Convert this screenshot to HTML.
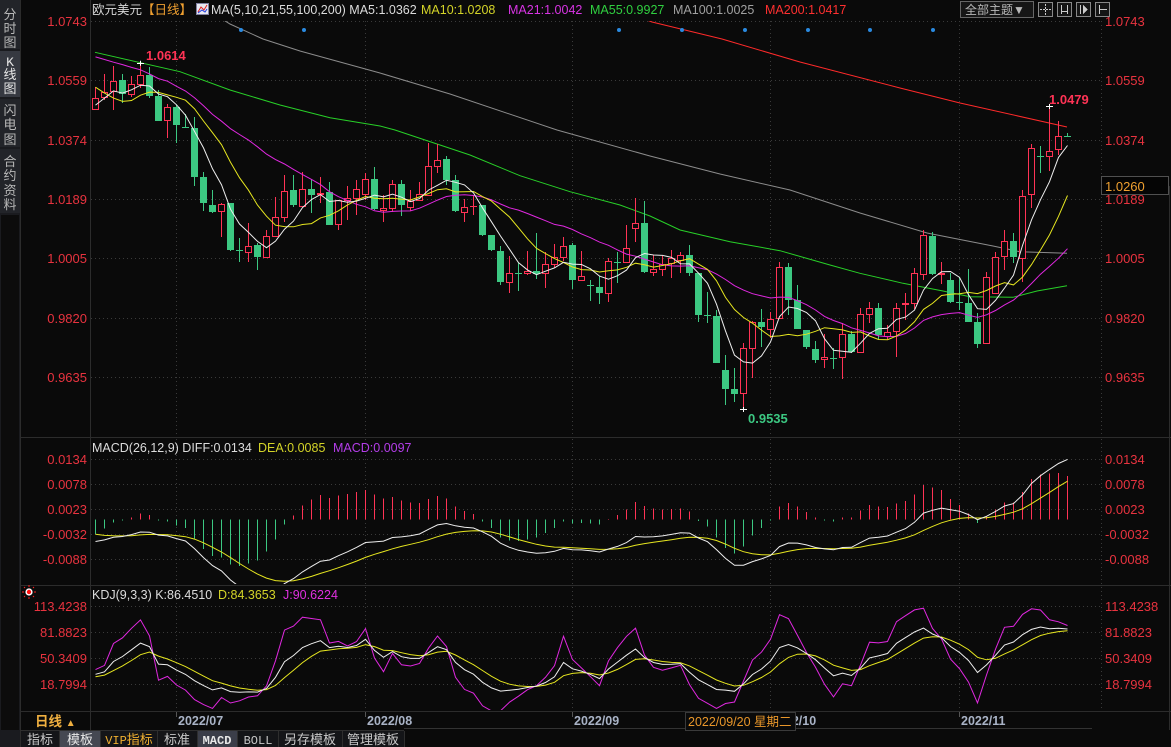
<!DOCTYPE html>
<html><head><meta charset="utf-8">
<style>
html,body{margin:0;padding:0;background:#0a0a0a;}
body{width:1171px;height:747px;overflow:hidden;position:relative;font-family:"Liberation Sans","Noto Sans CJK SC",sans-serif;}
svg{position:absolute;left:0;top:0;}
text{font-family:"Liberation Sans","Noto Sans CJK SC",sans-serif;}
.mono{font-family:"Liberation Mono","Noto Sans CJK SC",monospace;}
</style></head><body>
<svg id="s" width="1171" height="747" viewBox="0 0 1171 747">
<defs>
<clipPath id="cm"><rect x="91" y="21" width="1010" height="416"/></clipPath>
<clipPath id="cd"><rect x="91" y="439" width="1010" height="145"/></clipPath>
<clipPath id="ck"><rect x="91" y="587" width="1010" height="123"/></clipPath>
</defs>
<rect x="0" y="0" width="1171" height="747" fill="#0a0a0a"/>
<!-- sidebar -->
<rect x="0" y="0" width="20" height="747" fill="#1a1b1f"/>
<rect x="0" y="0" width="20" height="49" fill="#222429"/>
<rect x="0" y="51" width="20" height="46" fill="#363941"/>
<rect x="0" y="99" width="20" height="48" fill="#222429"/>
<rect x="0" y="149" width="20" height="64" fill="#222429"/>
<rect x="1" y="215" width="18" height="515" fill="#0c0c0c"/>
<g fill="#b8b8b8" font-size="13" text-anchor="middle">
<text x="10" y="19">分</text><text x="10" y="33">时</text><text x="10" y="47">图</text>
<text x="10" y="66" fill="#e6e6e6" class="mono">K</text><text x="10" y="79" fill="#e6e6e6">线</text><text x="10" y="93" fill="#e6e6e6">图</text>
<text x="10" y="115">闪</text><text x="10" y="129">电</text><text x="10" y="144">图</text>
<text x="10" y="166">合</text><text x="10" y="180">约</text><text x="10" y="195">资</text><text x="10" y="209">料</text>
</g>
<g stroke="#2c2c2c" shape-rendering="crispEdges">
<line x1="20.5" y1="0" x2="20.5" y2="747"/>
<line x1="90.5" y1="0" x2="90.5" y2="730"/>
<line x1="20" y1="437.5" x2="1171" y2="437.5"/>
<line x1="20" y1="585.5" x2="1171" y2="585.5"/>
<line x1="20" y1="711.5" x2="1171" y2="711.5"/>
<line x1="1169.5" y1="186" x2="1169.5" y2="730"/>
<line x1="404" y1="728.5" x2="1092" y2="728.5" stroke="#333"/>
</g>
<!-- grid -->
<g stroke="#3a3a3a" stroke-dasharray="1,3" shape-rendering="crispEdges">
<line x1="91" y1="21.5" x2="1101" y2="21.5"/><line x1="91" y1="80.5" x2="1101" y2="80.5"/>
<line x1="91" y1="140.5" x2="1101" y2="140.5"/><line x1="91" y1="199.5" x2="1101" y2="199.5"/>
<line x1="91" y1="258.5" x2="1101" y2="258.5"/><line x1="91" y1="318.5" x2="1101" y2="318.5"/>
<line x1="91" y1="377.5" x2="1101" y2="377.5"/>
<line x1="91" y1="459.5" x2="1101" y2="459.5"/><line x1="91" y1="484.5" x2="1101" y2="484.5"/>
<line x1="91" y1="509.5" x2="1101" y2="509.5"/><line x1="91" y1="534.5" x2="1101" y2="534.5"/>
<line x1="91" y1="559.5" x2="1101" y2="559.5"/>
<line x1="91" y1="606.5" x2="1101" y2="606.5"/><line x1="91" y1="632.5" x2="1101" y2="632.5"/>
<line x1="91" y1="658.5" x2="1101" y2="658.5"/><line x1="91" y1="684.5" x2="1101" y2="684.5"/>
<g id="vg"></g>
</g>
<!-- header -->
<text x="92" y="14" font-size="12.5" fill="#d6d6d6">欧元美元<tspan fill="#f0a030">【日线】</tspan></text>
<rect x="196.5" y="3.5" width="12" height="11" fill="#e8e8f0" stroke="#8080a0"/>
<polyline points="198,12 201,7 204,10 207,5" fill="none" stroke="#e02020" stroke-width="1"/>
<polyline points="198,13 202,10 205,12 207,9" fill="none" stroke="#2040e0" stroke-width="1"/>
<text x="211" y="14" font-size="12.5" fill="#dcdcdc">MA(5,10,21,55,100,200)  MA5:1.0362</text>
<text x="421" y="14" font-size="12.5" fill="#d4d428">MA10:1.0208</text>
<text x="508" y="14" font-size="12.5" fill="#d834e4">MA21:1.0042</text>
<text x="590" y="14" font-size="12.5" fill="#30d040">MA55:0.9927</text>
<text x="673" y="14" font-size="12.5" fill="#a0a0a0">MA100:1.0025</text>
<text x="765" y="14" font-size="12.5" fill="#ff3030">MA200:1.0417</text>
<rect x="960.5" y="1.5" width="73" height="16" fill="#161616" stroke="#666"/>
<text x="965" y="14" font-size="12" fill="#b8b8b8">全部主题▼</text>
<g stroke="#888" fill="#151515" shape-rendering="crispEdges">
<rect x="1038.5" y="2.5" width="14" height="14"/><rect x="1057.5" y="2.5" width="14" height="14"/>
<rect x="1076.5" y="2.5" width="14" height="14"/><rect x="1095.5" y="2.5" width="14" height="14"/>
<line x1="1045.5" y1="4" x2="1045.5" y2="15" stroke="#ccc" stroke-dasharray="2,1"/>
<line x1="1040" y1="9.5" x2="1051" y2="9.5" stroke="#ccc" stroke-dasharray="2,1"/>
<line x1="1061.5" y1="5" x2="1061.5" y2="14" stroke="#ccc"/><line x1="1067.5" y1="5" x2="1067.5" y2="14" stroke="#ccc"/>
<line x1="1061" y1="11.5" x2="1068" y2="11.5" stroke="#ccc"/>
<line x1="1080.5" y1="5" x2="1080.5" y2="14" stroke="#ccc"/><polygon points="1083,5 1088,9.5 1083,14" fill="#ccc" stroke="none"/>
<line x1="1099.5" y1="5" x2="1099.5" y2="14" stroke="#ccc"/><line x1="1100" y1="9.5" x2="1107" y2="9.5" stroke="#ccc"/>
</g>
<!-- axis labels -->
<g font-size="13" fill="#e8333f">
<g text-anchor="end">
<text x="87" y="26">1.0743</text><text x="87" y="85">1.0559</text><text x="87" y="145">1.0374</text>
<text x="87" y="204">1.0189</text><text x="87" y="263">1.0005</text><text x="87" y="323">0.9820</text>
<text x="87" y="382">0.9635</text>
<text x="87" y="464">0.0134</text><text x="87" y="489">0.0078</text><text x="87" y="514">0.0023</text>
<text x="87" y="539">-0.0032</text><text x="87" y="564">-0.0088</text>
<text x="87" y="611">113.4238</text><text x="87" y="637">81.8823</text><text x="87" y="663">50.3409</text>
<text x="87" y="689">18.7994</text>
</g>
<text x="1105" y="26">1.0743</text><text x="1105" y="85">1.0559</text><text x="1105" y="145">1.0374</text>
<text x="1105" y="204">1.0189</text><text x="1105" y="263">1.0005</text><text x="1105" y="323">0.9820</text>
<text x="1105" y="382">0.9635</text>
<text x="1105" y="464">0.0134</text><text x="1105" y="489">0.0078</text><text x="1105" y="514">0.0023</text>
<text x="1105" y="539">-0.0032</text><text x="1105" y="564">-0.0088</text>
<text x="1105" y="611">113.4238</text><text x="1105" y="637">81.8823</text><text x="1105" y="663">50.3409</text>
<text x="1105" y="689">18.7994</text>
</g>
<rect x="1101.5" y="176.5" width="67" height="18" fill="#050505" stroke="#505050"/>
<text x="1105" y="191" font-size="13" fill="#f0a030">1.0260</text>
<!-- sub headers -->
<text x="92" y="452" font-size="12.5" fill="#dcdcdc">MACD(26,12,9) DIFF:0.0134</text>
<text x="258" y="452" font-size="12.5" fill="#d4d428">DEA:0.0085</text>
<text x="333" y="452" font-size="12.5" fill="#b33de8">MACD:0.0097</text>
<text x="92" y="599" font-size="12.5" fill="#dcdcdc">KDJ(9,3,3) K:86.4510</text>
<text x="218" y="599" font-size="12.5" fill="#d4d428">D:84.3653</text>
<text x="283" y="599" font-size="12.5" fill="#e030e0">J:90.6224</text>
<g transform="translate(29,592)">
<g stroke="#ff2020" stroke-width="1"><line x1="-7" y1="0" x2="-5" y2="0"/><line x1="5" y1="0" x2="7" y2="0"/><line x1="0" y1="-7" x2="0" y2="-5"/><line x1="0" y1="5" x2="0" y2="7"/><line x1="-5" y1="-5" x2="-4" y2="-4"/><line x1="5" y1="-5" x2="4" y2="-4"/><line x1="-5" y1="5" x2="-4" y2="4"/><line x1="5" y1="5" x2="4" y2="4"/></g>
<circle r="3.6" fill="#ffffff"/><circle r="2.2" fill="#ff1010"/>
</g>
<!-- date axis -->
<g stroke="#555" shape-rendering="crispEdges">
<line x1="176.5" y1="712" x2="176.5" y2="717"/><line x1="365.5" y1="712" x2="365.5" y2="717"/>
<line x1="572.5" y1="712" x2="572.5" y2="717"/><line x1="770.5" y1="712" x2="770.5" y2="717"/>
<line x1="959.5" y1="712" x2="959.5" y2="717"/>
</g>
<g font-size="12.5" font-weight="bold" fill="#a9b3c6">
<text x="178" y="725">2022/07</text><text x="367" y="725">2022/08</text><text x="574" y="725">2022/09</text>
<text x="771" y="725">2022/10</text><text x="961" y="725">2022/11</text>
</g>
<rect x="685.5" y="712.5" width="110" height="18" fill="#0a0a0a" stroke="#3a3a3a"/>
<text x="688" y="726" font-size="12.5" fill="#e8962a">2022/09/20 星期二</text>
<text x="35" y="726" font-size="13.5" font-weight="bold" fill="#f0b040">日线 <tspan font-size="10">▲</tspan></text>
<!-- bottom tabs -->
<rect x="21" y="731" width="383" height="16" fill="#141518"/>
<rect x="60" y="731" width="40" height="16" fill="#454852"/>
<rect x="198" y="731" width="39" height="16" fill="#3b3e49"/>
<g stroke="#2e2e2e" shape-rendering="crispEdges">
<line x1="20" y1="730.5" x2="404" y2="730.5"/>
<line x1="59.5" y1="731" x2="59.5" y2="747"/><line x1="100.5" y1="731" x2="100.5" y2="747"/>
<line x1="157.5" y1="731" x2="157.5" y2="747"/><line x1="197.5" y1="731" x2="197.5" y2="747"/>
<line x1="237.5" y1="731" x2="237.5" y2="747"/><line x1="278.5" y1="731" x2="278.5" y2="747"/>
<line x1="342.5" y1="731" x2="342.5" y2="747"/><line x1="404.5" y1="731" x2="404.5" y2="747"/>
</g>
<g font-size="13" fill="#c8c8c8" text-anchor="middle">
<text x="40" y="744">指标</text><text x="80" y="744" fill="#e8e8e8">模板</text>
<text x="129" y="744" fill="#f0b030"><tspan class="mono" font-size="12">VIP</tspan>指标</text>
<text x="177" y="744">标准</text>
<text x="217" y="744" class="mono" font-size="12" font-weight="bold" fill="#e8e8e8">MACD</text>
<text x="258" y="744" class="mono" font-size="12">BOLL</text>
<text x="310" y="744">另存模板</text><text x="373" y="744">管理模板</text>
</g>
<g id="main" clip-path="url(#cm)"></g>
<g id="macd" clip-path="url(#cd)"></g>
<g id="kdj" clip-path="url(#ck)"></g>
<g id="ann"></g>
<text x="146" y="60" font-size="13" font-weight="bold" fill="#ff3355">1.0614</text>
<text x="1049" y="104" font-size="13" font-weight="bold" fill="#ff3355">1.0479</text>
<text x="748" y="423" font-size="13" font-weight="bold" fill="#3cc882">0.9535</text>
</svg>
<script>
(function(){
var NS='http://www.w3.org/2000/svg';
function el(t,a,p){var e=document.createElementNS(NS,t);for(var k in a)e.setAttribute(k,a[k]);p.appendChild(e);return e;}
var D=[[109.3,98.3,86.7,109.3],[97.3,91.7,74,100],[90.7,80.7,66,110],[80,94,74,103],[94.3,84.3,76,96.7],[84.3,75.3,62.7,88.3],[75,95.7,66.7,98.3],[96,120.7,90,121],[120,107.3,104,137.7],[107,125,105,143.3],
[127,127.3,114,127.5],[128,176.7,117.3,186],[177.3,203.3,172.3,211],[205,211.7,190,213.3],[211.3,204.3,203.3,236.7],[202.7,250,202.7,250.7],[250,250.5,238.3,261.7],[251.7,245.7,222.7,261.7],[245,256.7,243.3,270],[256.7,235.7,230,258.3],
[235.7,217.3,196.7,236.7],[216.7,190.7,175,221.7],[190,205,175,207],[205.7,189.3,172.3,206.7],[189,195,179,213.3],[194,193,177.3,203.3],[192.3,225,181.7,225],[224.3,200,200,230],[200,198,185.7,220],[198.3,189.3,180,215],
[194,179.3,172.7,200],[179.3,209.3,166.7,210],[209.7,208.3,195,221.7],[208.3,184.3,180,211.7],[184.3,205,180,215.7],[206.7,201,190,210.7],[200,194.3,182.3,200.7],[195,166,143.3,195],[165.7,160.3,144,172.7],[159,180,156,185],
[180.3,210.7,175,211.7],[211.7,207.3,199,221.7],[206.3,206,195,215],[205,235,205,236],[235.3,250,235,250.7],[251,281.7,246,285],[281.7,273.3,256,293.3],[273,273.5,263.3,290.7],[273.3,271,251,275],[271,274,233.3,279],
[273.3,264.3,251.7,288.3],[264.3,256.7,244.3,268.3],[257.3,245.7,236.7,260.7],[245,280,243.3,289.3],[280.3,276,251,280.3],[285,285.5,280,300.7],[286.7,293.3,275.7,304],[293.3,261.3,257.7,301.7],[261.7,262.3,252.3,283.3],[262.3,248.3,225,262.3],
[228.3,223.3,198.3,241.7],[223.3,272.3,201,272.7],[272.3,269,255,276],[269,264,256,276],[263.3,258.3,250,278.3],[260,255.3,251.7,272.7],[255,272.7,245,276],[272.7,315,272.7,321.7],[315,315.3,291.7,323.3],[316,362.7,310,363.3],
[370,389,355,405],[389,394,368.3,401.7],[393.3,348.3,342.7,409],[348.3,321.7,321,378.3],[321.7,326.7,309,346.7],[329.3,319.3,311.7,338.3],[318.3,267.3,261.7,318.3],[267.3,300,263.3,315],[300,329.3,285,329.3],[330,346.7,330,349.3],
[349.3,360,341,363.3],[359.3,357.3,334,367.7],[357.7,358.3,348.3,369],[357.3,334.3,323.3,379.3],[334,351.7,330.7,353.3],[352.3,314.3,308.3,353.3],[314,308.3,302.3,323.3],[308.3,335,303.3,339.3],[336,331.7,325,340],[330.7,307.7,303.3,356.7],
[304,303,293.3,320],[303.3,273.3,268.3,309],[274.3,235,230,280],[235.7,274,231.7,275],[274,273,261.7,284.3],[280,302.3,272.7,303.3],[302,302.3,276.7,310],[303.3,321.7,269,321.7],[322.3,344,313.3,348.3],[342.7,276.7,272.3,343.3],
[292.7,257.3,251.7,292.7],[256,240.7,230,270],[240.7,257.3,233.3,263.3],[258.3,195.7,190,281.7],[194.3,148.3,144,208.3],[155.5,156.5,146,173.3],[156,150.7,106,170.7],[149,136,120.7,155],[135.7,136,133.3,136.5]];
function P(y){return 1.0743-(y-21)/3214;}
function Y(p){return 21+(1.0743-p)*3214;}
function X(i){return 95+9*i+0.5;}
var N=D.length;
var closes=D.map(function(d){return P(d[1]);});
var pre=[1.0690,1.0735,1.0676,1.0728,1.0733,1.0779,1.0735,1.0646,1.0750,1.0719,1.0697,1.0705,1.0715,1.0617,1.0518,1.0408,1.0414,1.0445,1.0550,1.0495];
var allC=pre.concat(closes);
function ma(n){var r=[];for(var i=0;i<N;i++){var s=0;for(var k=0;k<n;k++)s+=allC[i+20-k];r.push(s/n);}return r;}
var vg=document.getElementById('vg');
[176,365,572,770,959,1101].forEach(function(x){
 [[21,437],[439,584],[587,710]].forEach(function(r){el('line',{x1:x+0.5,y1:r[0],x2:x+0.5,y2:r[1]},vg);});
});
var gm=document.getElementById('main');
function poly(pts,col,p){el('polyline',{points:pts.map(function(q){return q[0].toFixed(1)+','+q[1].toFixed(1);}).join(' '),fill:'none',stroke:col,'stroke-width':1},p);}
poly([[95,52.3],[180,71.7],[230,90],[280,105],[330,117.7],[380,126],[395,130],[470,155],[520,175.7],[570,191.7],[620,205],[650,216],[680,230],[730,241.7],[780,250.7],[830,265],[860,273.3],[903,283.3],[943,291],[970,296.7],[1013,297.3],[1037,291],[1067,285.7]],'#28d028',gm);
poly([[222,19],[230,24],[263,39],[300,51],[380,73],[450,94],[557,130],[650,156],[720,174],[790,190],[860,213],[927,233],[993,246],[1020,251.7],[1067,253.3]],'#8c8c8c',gm);
poly([[644,19],[652,22],[722,39],[800,62],[900,88],[960,103],[1067,127]],'#ff2a2a',gm);
var gc=el('g',{'shape-rendering':'crispEdges'},gm);
D.forEach(function(d,i){
 var x=X(i),o=d[0],c=d[1],h=d[2],l=d[3];
 var top=Math.round(Math.min(o,c)),bot=Math.round(Math.max(o,c));
 h=Math.round(h);l=Math.round(l);
 if(c<o){var col='#ff3355';
  if(h<top)el('line',{x1:x,y1:h,x2:x,y2:top,stroke:col},gc);
  if(l>bot)el('line',{x1:x,y1:bot,x2:x,y2:l,stroke:col},gc);
  if(bot-top<1)el('line',{x1:x-3.5,y1:top+0.5,x2:x+3.5,y2:top+0.5,stroke:col},gc);
  else el('rect',{x:x-3,y:top+0.5,width:6,height:bot-top,fill:'#0a0a0a',stroke:col},gc);
 } else {var col2='#3cc882';
  el('line',{x1:x,y1:h,x2:x,y2:l,stroke:col2},gc);
  el('rect',{x:x-3.5,y:top,width:7,height:Math.max(bot-top,1),fill:col2},gc);
 }
});
var cols={5:'#eeeeee',10:'#e6e620',21:'#e028e0'};
[21,10,5].forEach(function(n){var m=ma(n);poly(m.map(function(v,i){return [X(i),Y(v)];}),cols[n],gm);});
[241,304,619,682,745,808,870,933].forEach(function(x){el('circle',{cx:x,cy:30,r:2,fill:'#2a8ae0'},gm);});
var an=document.getElementById('ann');
[[5,62.7],[106,106],[72,409]].forEach(function(a){var x=X(a[0]);el('line',{x1:x-3.5,y1:Math.round(a[1])+0.5,x2:x+3.5,y2:Math.round(a[1])+0.5,stroke:'#ffffff'},an);el('line',{x1:x,y1:a[1]-2,x2:x,y2:a[1]+3,stroke:'#ffffff'},an);});
// MACD
var e12=1.0525,e26=1.0574,dea=-0.0033,dif=[],dA=[];
for(var i=0;i<N;i++){if(i>0){e12=e12*11/13+closes[i]*2/13;e26=e26*25/27+closes[i]*2/27;}
 var df=e12-e26-0.0026*Math.exp(-Math.pow((i-19)/7,2));
 if(i>0)dea=dea*0.8+df*0.2;dif.push(df);dA.push(dea);}
var gd=document.getElementById('macd');var Z=519.5,S=4480;
var gh=el('g',{'shape-rendering':'crispEdges'},gd);
for(i=0;i<N;i++){var h2=2*(dif[i]-dA[i]);var x=X(i);el('line',{x1:x,y1:Z,x2:x,y2:Z-h2*S,stroke:h2>=0?'#ff3355':'#3cc882'},gh);}
poly(dA.map(function(v,i){return [X(i),Z-v*S];}),'#e6e620',gd);
poly(dif.map(function(v,i){return [X(i),Z-v*S];}),'#eeeeee',gd);
// KDJ
var preHL=[[1.0748,1.0653,1.0715],[1.0774,1.0613,1.0617],[1.0638,1.0506,1.0518],[1.0522,1.0398,1.0408],[1.0480,1.0397,1.0414],[1.0506,1.0359,1.0445],[1.0601,1.0382,1.0550],[1.0567,1.0445,1.0495]];
var HH=preHL.map(function(a){return a[0];}).concat(D.map(function(d){return P(d[2]);}));
var LL=preHL.map(function(a){return a[1];}).concat(D.map(function(d){return P(d[3]);}));
var CC=preHL.map(function(a){return a[2];}).concat(closes);
var K=55,Dk=55,kA=[],dkA=[],jA=[];
for(var j=0;j<CC.length;j++){var hh=-1e9,ll=1e9;for(var k=Math.max(0,j-8);k<=j;k++){if(HH[k]>hh)hh=HH[k];if(LL[k]<ll)ll=LL[k];}
 var rsv=hh>ll?(CC[j]-ll)/(hh-ll)*100:50;K=(2*K+rsv)/3;Dk=(2*Dk+K)/3;if(j>=8){kA.push(K);dkA.push(Dk);jA.push(3*K-2*Dk);}}
var gk=document.getElementById('kdj');
function KY(v){return 606+(113.4238-v)*0.8243;}
poly(jA.map(function(v,i){return [X(i),KY(v)];}),'#e028e0',gk);
poly(dkA.map(function(v,i){return [X(i),KY(v)];}),'#e6e620',gk);
poly(kA.map(function(v,i){return [X(i),KY(v)];}),'#eeeeee',gk);
})();
</script>
</body></html>
